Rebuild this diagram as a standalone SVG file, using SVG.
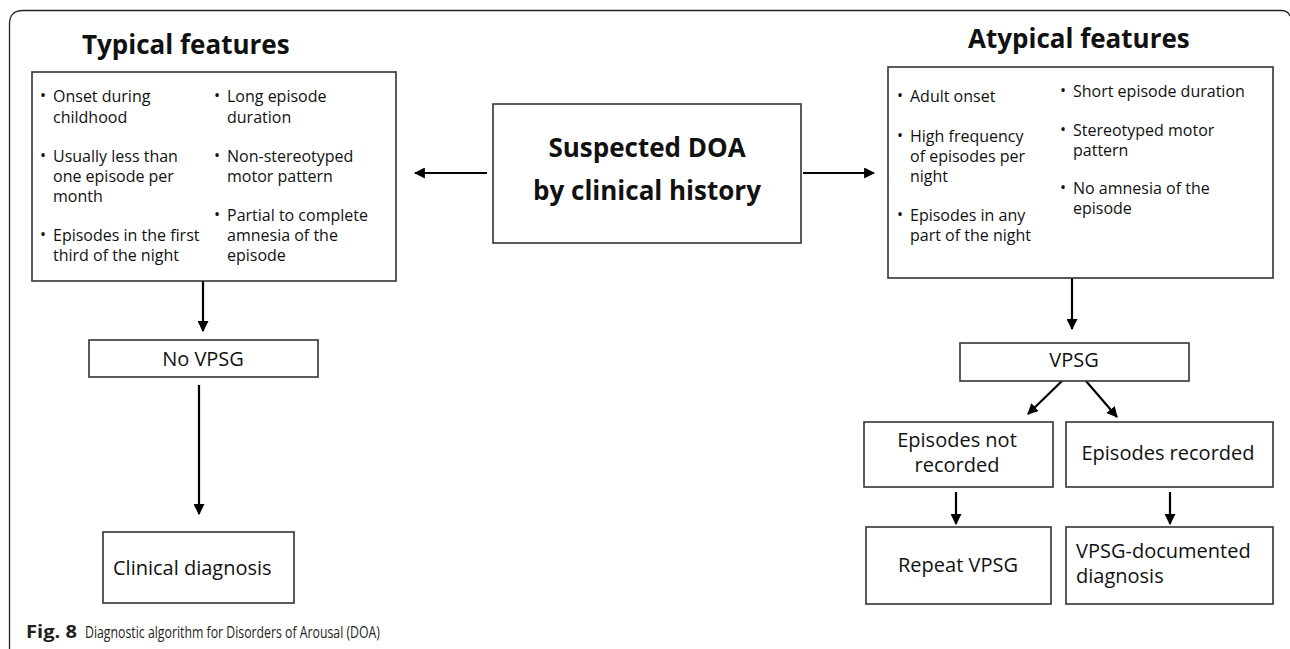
<svg xmlns="http://www.w3.org/2000/svg" width="1290" height="649" viewBox="0 0 1290 649">
<defs>
<marker id="ah" viewBox="0 0 10 10" refX="9" refY="5" markerWidth="5" markerHeight="5" markerUnits="strokeWidth" orient="auto">
<path d="M0,0 L10,5 L0,10 z" fill="#000"/>
</marker>
<style>
.box{fill:#fff;stroke:#333;stroke-width:1.6}
.t{font-family:"Open Sans","Liberation Sans",sans-serif;fill:#111}
.sm{font-size:16px}
.md{font-size:20px}
.ttl{font-size:26px;font-weight:bold}
.ctr{font-size:26px;font-weight:bold}
.b{font-size:16px}
.con{stroke:#000;stroke-width:2.2;fill:none;marker-end:url(#ah)}
.cap{font-family:"Open Sans","Liberation Sans",sans-serif;font-size:17px;fill:#231f20}
</style>
</defs>
<rect width="1290" height="649" fill="#fff"/>
<path d="M9.5,649 V24 Q9.5,10.5 23,10.5 H1281 Q1288,10.5 1290,16" fill="none" stroke="#222" stroke-width="1.3"/>

<g id="connectors">
<line class="con" x1="487" y1="173" x2="415" y2="173"/>
<line class="con" x1="803" y1="173" x2="874" y2="173"/>
<line class="con" x1="203" y1="281" x2="203" y2="331"/>
<line class="con" x1="199" y1="385" x2="199" y2="514"/>
<line class="con" x1="1072" y1="278" x2="1072" y2="329"/>
<line class="con" x1="1062" y1="381" x2="1028" y2="414"/>
<line class="con" x1="1086" y1="381" x2="1117" y2="417"/>
<line class="con" x1="956" y1="492" x2="956" y2="524"/>
<line class="con" x1="1170" y1="492" x2="1170" y2="524"/>
</g>

<g id="typical">
<text class="t ttl" x="82" y="54">Typical features</text>
<rect class="box" x="32" y="72" width="364" height="209"/>
<g class="t b"><text x="40" y="101">•</text><text x="40" y="161">•</text><text x="40" y="240">•</text><text x="214" y="101">•</text><text x="214" y="161">•</text><text x="214" y="220">•</text></g>
<g class="t sm">
<text x="53" y="102">Onset during</text><text x="53" y="123">childhood</text>
<text x="53" y="162">Usually less than</text><text x="53" y="182">one episode per</text><text x="53" y="202">month</text>
<text x="53" y="241">Episodes in the first</text><text x="53" y="261">third of the night</text>
<text x="227" y="102">Long episode</text><text x="227" y="123">duration</text>
<text x="227" y="162">Non-stereotyped</text><text x="227" y="182">motor pattern</text>
<text x="227" y="221">Partial  to complete</text><text x="227" y="241">amnesia of the</text><text x="227" y="261">episode</text>
</g>
</g>

<g id="suspected">
<rect class="box" x="493" y="104" width="308" height="139"/>
<text class="t ctr" x="647" y="157" text-anchor="middle">Suspected DOA</text>
<text class="t ctr" x="647" y="200" text-anchor="middle">by clinical history</text>
</g>

<g id="atypical">
<text class="t ttl" x="968" y="48">Atypical features</text>
<rect class="box" x="888" y="67" width="385" height="211"/>
<g class="t b"><text x="897" y="101">•</text><text x="897" y="141">•</text><text x="897" y="220">•</text><text x="1060" y="96">•</text><text x="1060" y="135">•</text><text x="1060" y="193">•</text></g>
<g class="t sm">
<text x="910" y="102">Adult onset</text>
<text x="910" y="142">High frequency</text><text x="910" y="162">of episodes per</text><text x="910" y="182">night</text>
<text x="910" y="221">Episodes in any</text><text x="910" y="241">part of the night</text>
<text x="1073" y="97">Short episode duration</text>
<text x="1073" y="136">Stereotyped motor</text><text x="1073" y="156">pattern</text>
<text x="1073" y="194">No amnesia of the</text><text x="1073" y="214">episode</text>
</g>
</g>

<g id="novpsg">
<rect class="box" x="89" y="340" width="229" height="37"/>
<text class="t md" x="203" y="366" text-anchor="middle">No VPSG</text>
</g>

<g id="clinical">
<rect class="box" x="103" y="532" width="191" height="71"/>
<text class="t md" x="113" y="575">Clinical diagnosis</text>
</g>

<g id="vpsg">
<rect class="box" x="960" y="343" width="229" height="38"/>
<text class="t md" x="1074" y="367" text-anchor="middle">VPSG</text>
</g>

<g id="notrecorded">
<rect class="box" x="864" y="422" width="189" height="65"/>
<text class="t md" x="957" y="447" text-anchor="middle">Episodes not</text>
<text class="t md" x="957" y="472" text-anchor="middle">recorded</text>
</g>

<g id="recorded">
<rect class="box" x="1066" y="422" width="207" height="65"/>
<text class="t md" x="1168" y="460" text-anchor="middle">Episodes recorded</text>
</g>

<g id="repeat">
<rect class="box" x="866" y="527" width="185" height="77"/>
<text class="t md" x="958" y="572" text-anchor="middle">Repeat VPSG</text>
</g>

<g id="documented">
<rect class="box" x="1066" y="527" width="207" height="77"/>
<text class="t md" x="1076" y="558">VPSG-documented</text>
<text class="t md" x="1076" y="583">diagnosis</text>
</g>

<g id="caption">
<text class="cap" x="26" y="638" font-weight="bold" textLength="51" lengthAdjust="spacingAndGlyphs">Fig. 8</text>
<text class="cap" x="85" y="638" textLength="295" lengthAdjust="spacingAndGlyphs">Diagnostic algorithm for Disorders of Arousal (DOA)</text>
</g>
</svg>
